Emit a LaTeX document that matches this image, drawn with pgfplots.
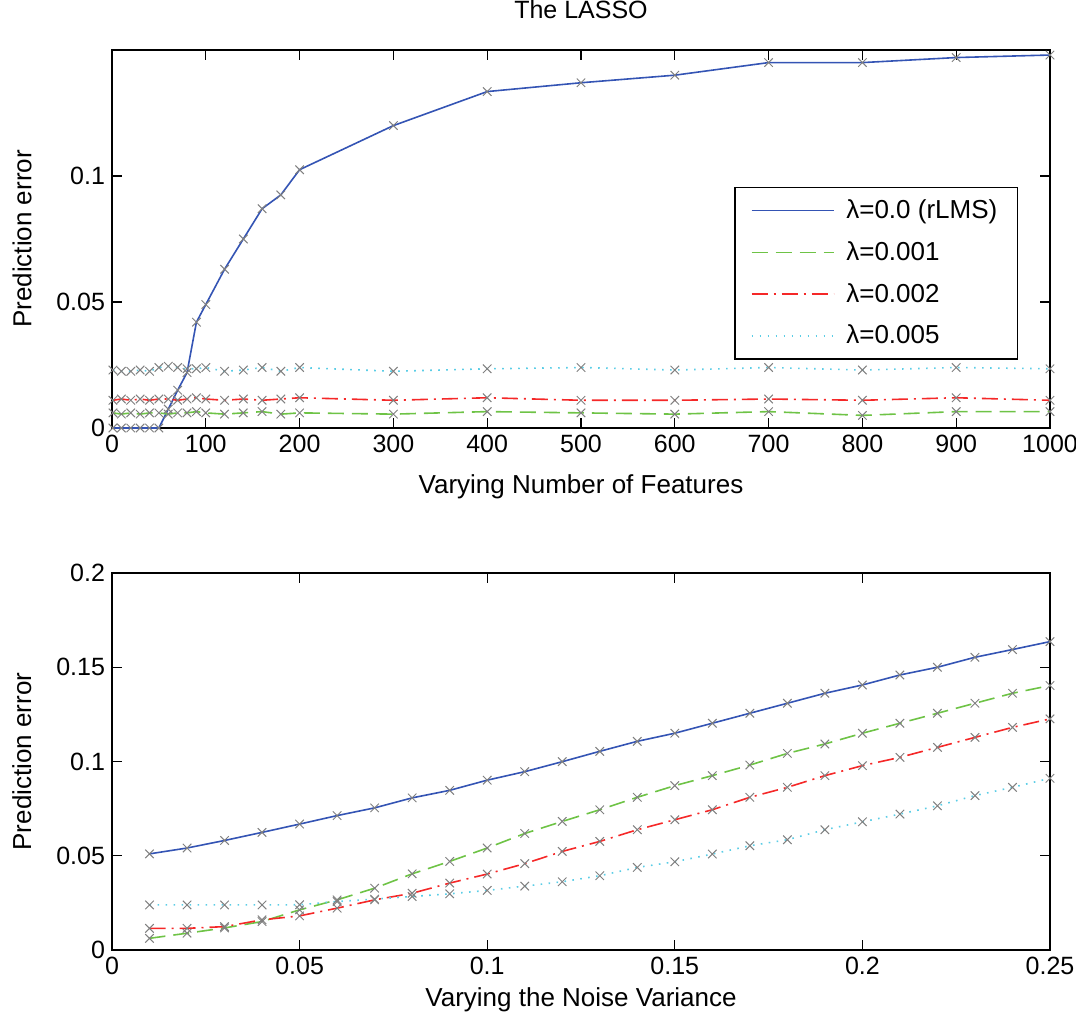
\documentclass[border=0pt]{standalone}
\usepackage{fontspec}
\setmainfont{Liberation Sans}
\usepackage{pgfplots}
\pgfplotsset{compat=1.18}
\usepackage{pgfplotstable}

\definecolor{lblue}{RGB}{52,84,180}
\definecolor{lgreen}{RGB}{110,195,70}
\definecolor{lred}{RGB}{245,40,40}
\definecolor{lcyan}{RGB}{90,205,230}
\definecolor{mgray}{RGB}{128,128,128}

% varying number of features
\pgfplotstableread{
x    blue    green   red     cyan
1    0       0.0060  0.0110  0.0230
10   0       0.0055  0.0115  0.0225
20   0       0.0060  0.0110  0.0225
30   0       0.0055  0.0115  0.0230
40   0       0.0060  0.0110  0.0225
50   0       0.0060  0.0115  0.0240
60   0.0075  0.0055  0.0115  0.0245
70   0.0150  0.0060  0.0110  0.0240
80   0.0220  0.0060  0.0115  0.0235
90   0.0420  0.0065  0.0120  0.0235
100  0.0490  0.0060  0.0115  0.0240
120  0.0630  0.0055  0.0110  0.0225
140  0.0750  0.0060  0.0115  0.0230
160  0.0870  0.0065  0.0110  0.0240
180  0.0925  0.0055  0.0115  0.0225
200  0.1025  0.0060  0.0120  0.0240
300  0.1200  0.0055  0.0110  0.0225
400  0.1335  0.0065  0.0120  0.0235
500  0.1370  0.0060  0.0110  0.0240
600  0.1400  0.0055  0.0110  0.0230
700  0.1450  0.0065  0.0115  0.0240
800  0.1450  0.0050  0.0110  0.0230
900  0.1470  0.0065  0.0120  0.0240
1000 0.1480  0.0065  0.0110  0.0235
}\features

% varying the noise variance
\pgfplotstableread{
x     blue    green   red     cyan
0.01  0.0510  0.0062  0.0115  0.0239
0.02  0.0541  0.0089  0.0115  0.0239
0.03  0.0581  0.0117  0.0124  0.0239
0.04  0.0624  0.0151  0.0160  0.0239
0.05  0.0668  0.0213  0.0181  0.0240
0.06  0.0713  0.0266  0.0222  0.0257
0.07  0.0754  0.0328  0.0266  0.0270
0.08  0.0807  0.0404  0.0301  0.0284
0.09  0.0847  0.0470  0.0355  0.0298
0.10  0.0901  0.0541  0.0403  0.0316
0.11  0.0946  0.0618  0.0458  0.0339
0.12  0.0999  0.0682  0.0523  0.0362
0.13  0.1054  0.0744  0.0576  0.0394
0.14  0.1107  0.0810  0.0638  0.0438
0.15  0.1150  0.0872  0.0691  0.0468
0.16  0.1203  0.0925  0.0744  0.0509
0.17  0.1256  0.0981  0.0810  0.0553
0.18  0.1309  0.1043  0.0863  0.0585
0.19  0.1362  0.1093  0.0925  0.0638
0.20  0.1406  0.1150  0.0978  0.0680
0.21  0.1459  0.1203  0.1022  0.0721
0.22  0.1500  0.1256  0.1075  0.0765
0.23  0.1553  0.1309  0.1128  0.0819
0.24  0.1594  0.1362  0.1181  0.0863
0.25  0.1636  0.1403  0.1226  0.0911
}\noise

\pgfplotsset{
  lasso/.style={
    scale only axis, width=469pt,
    axis line style={line width=0.8pt},
    tick align=inside, major tick length=5pt,
    tick style={black, line width=0.6pt},
    scaled ticks=false,
    /pgf/number format/assume math mode=true,
    /pgf/number format/1000 sep={},
    ticklabel style={font=\fontsize{12.5}{14}\selectfont},
    label style={font=\fontsize{13}{15}\selectfont},
    ylabel={Prediction error},
    ylabel style={at={(axis description cs:-0.096,0.5)}, anchor=center},
    clip=false,
    every axis plot/.append style={line width=0.8pt, mark=x, mark size=3pt,
      mark options={solid, draw=mgray, line width=0.5pt}},
  },
  s0/.style={lblue},
  s1/.style={lgreen, dash pattern=on 8pt off 4pt},
  s2/.style={lred, dash pattern=on 8pt off 3pt on 1pt off 3pt},
  s3/.style={lcyan, dash pattern=on 0.8pt off 3.2pt},
}

\begin{document}
\begin{tikzpicture}
\useasboundingbox (-56pt,-296.5pt) rectangle (482pt,214pt);

\begin{axis}[lasso,
  at={(0pt,0pt)}, anchor=south west,
  height=189pt,
  xmin=0, xmax=1000, ymin=0, ymax=0.15,
  xtick={0,100,...,1000},
  ytick={0,0.05,0.1},
  yticklabels={0,0.05,0.1},
  title={The LASSO},
  title style={at={(axis description cs:0.5,1.074)}, anchor=center,
    font=\fontsize{12.5}{14}\selectfont},
  xlabel={Varying Number of Features},
  xlabel style={at={(axis description cs:0.5,-0.156)}, anchor=center},
  legend style={at={(axis description cs:0.966,0.638)}, anchor=north east,
    draw=black, line width=0.8pt, font=\fontsize{13}{15}\selectfont,
    inner xsep=8pt, inner ysep=4pt, row sep=6pt},
  legend cell align=left,
  legend image code/.code={\draw[#1, mark=none] (0pt,0pt) -- (41pt,0pt);
    \path (45pt,0pt);},
]
\addplot[s0] table[x=x, y=blue] {\features};
\addplot[s1] table[x=x, y=green] {\features};
\addplot[s2] table[x=x, y=red] {\features};
\addplot[s3] table[x=x, y=cyan] {\features};
\legend{λ=0.0 (rLMS), λ=0.001, λ=0.002, λ=0.005}
\end{axis}

\begin{axis}[lasso,
  at={(0pt,-261pt)}, anchor=south west,
  height=188.5pt,
  xmin=0, xmax=0.25, ymin=0, ymax=0.2,
  xtick={0,0.05,...,0.25},
  xticklabels={0,0.05,0.1,0.15,0.2,0.25},
  ytick={0,0.05,...,0.2},
  yticklabels={0,0.05,0.1,0.15,0.2},
  xlabel={Varying the Noise Variance},
  xlabel style={at={(axis description cs:0.5,-0.133)}, anchor=center},
]
\addplot[s0] table[x=x, y=blue] {\noise};
\addplot[s1] table[x=x, y=green] {\noise};
\addplot[s2] table[x=x, y=red] {\noise};
\addplot[s3] table[x=x, y=cyan] {\noise};
\end{axis}
\end{tikzpicture}
\end{document}
